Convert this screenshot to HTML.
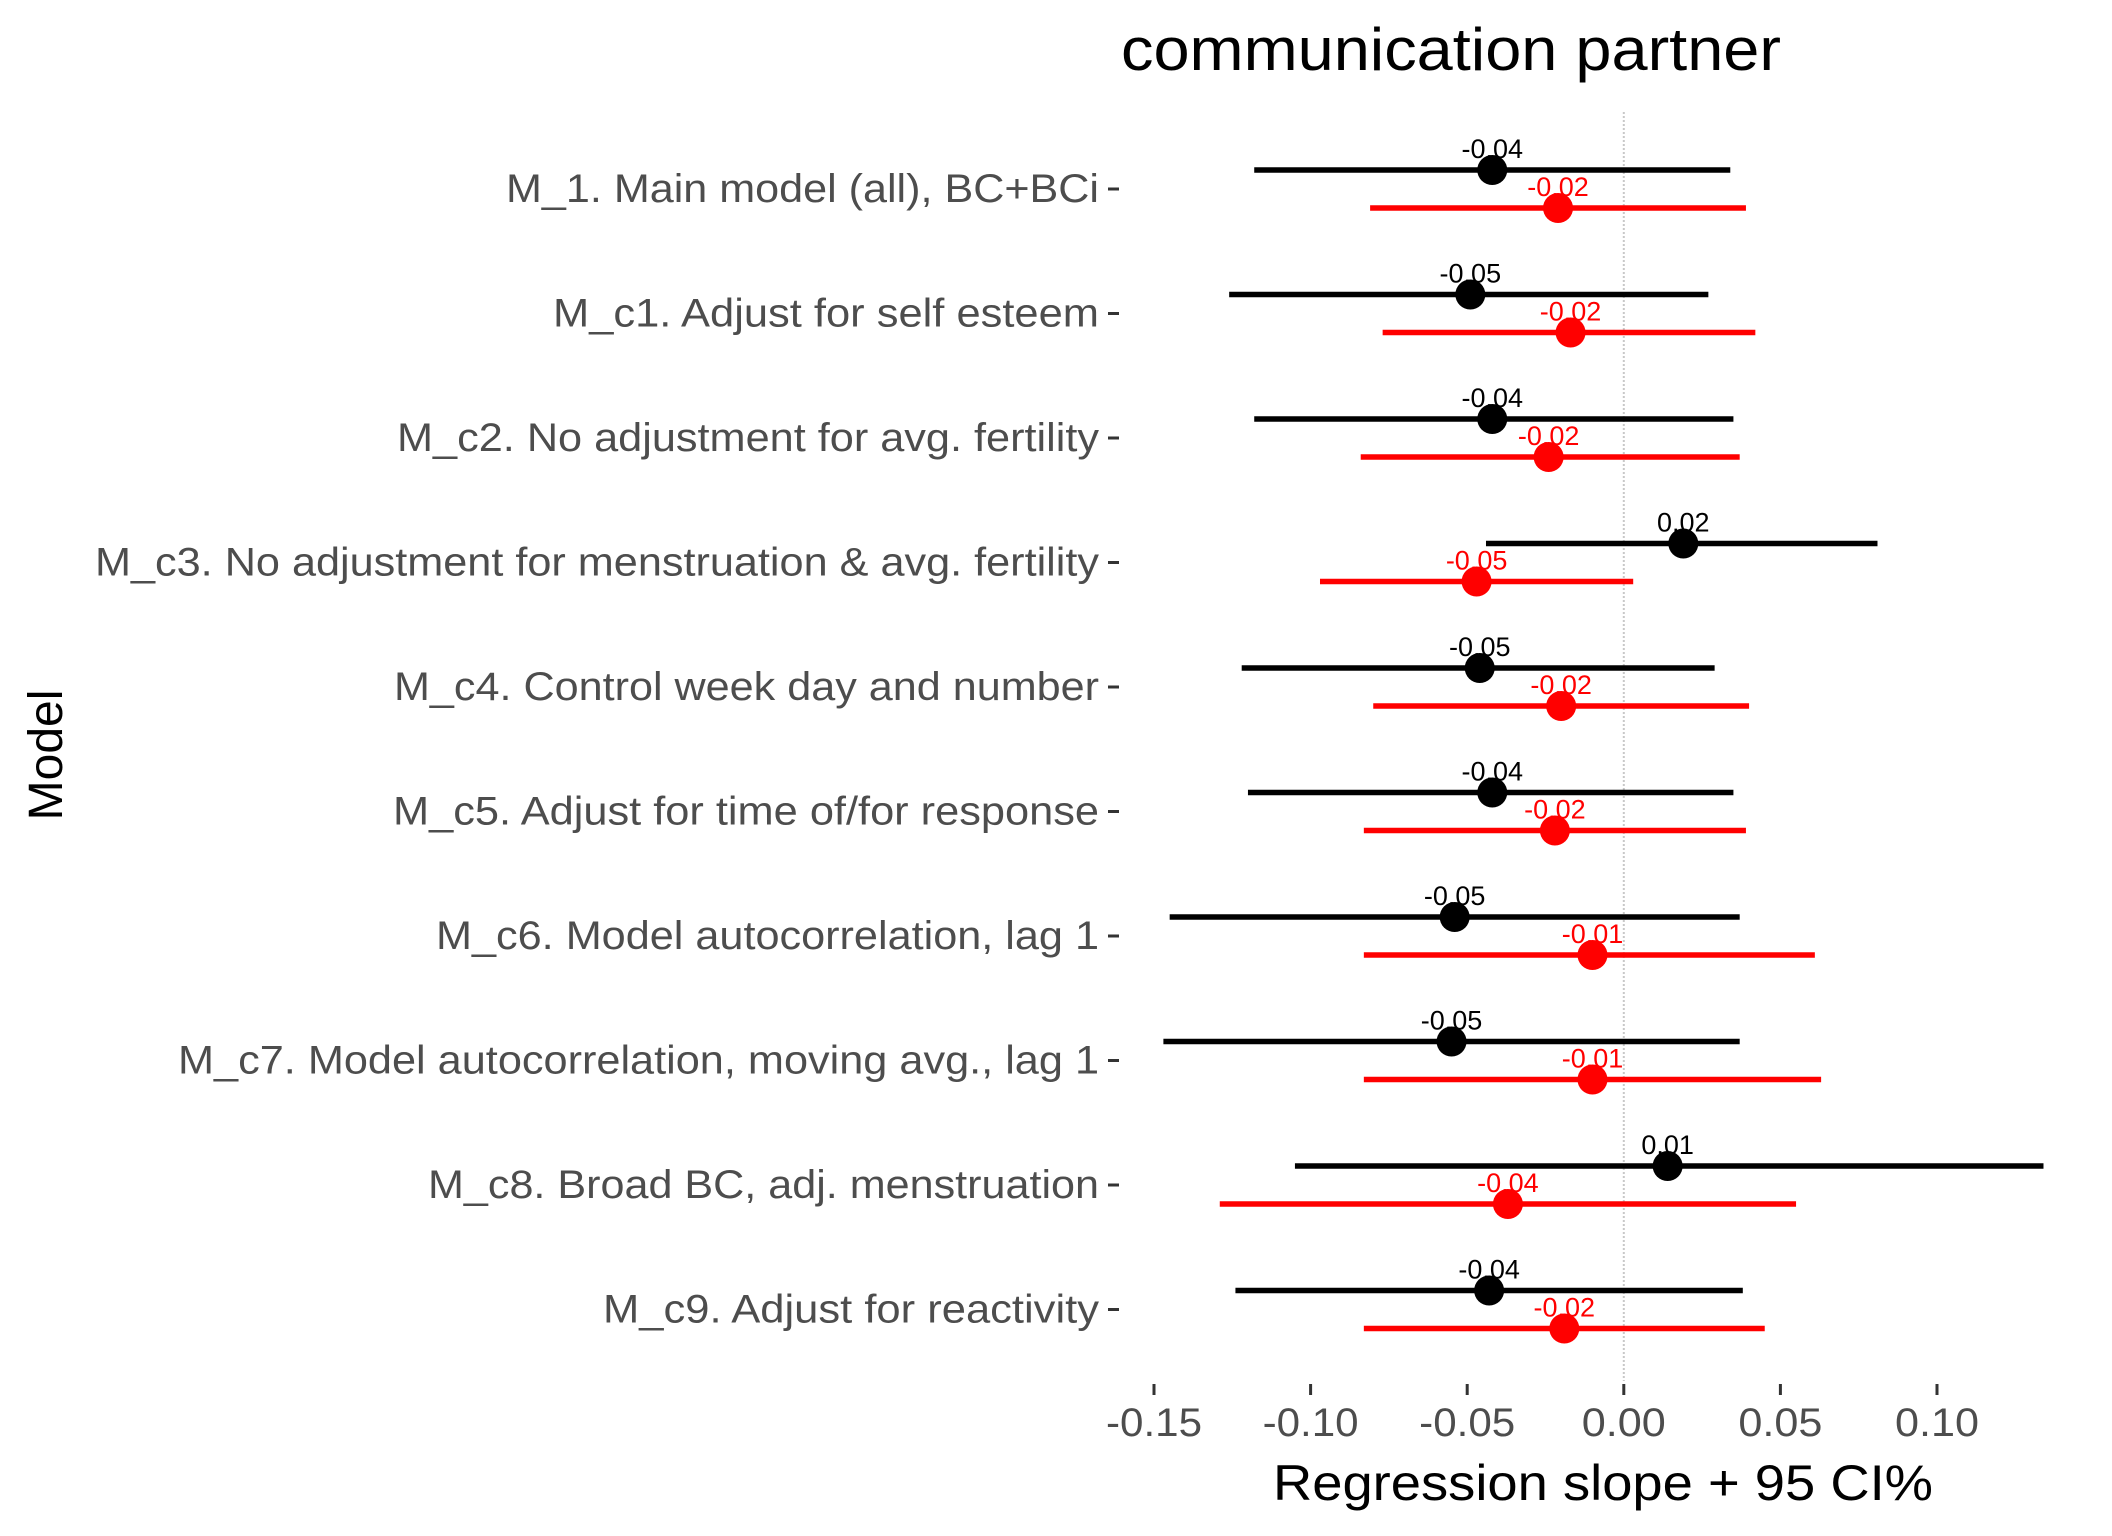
<!DOCTYPE html>
<html><head><meta charset="utf-8"><style>
html,body{margin:0;padding:0;background:#fff;}
svg{display:block;font-family:"Liberation Sans",Arial,sans-serif;}
</style></head><body>
<svg id="chart" width="2112" height="1536" viewBox="0 0 2112 1536" xmlns="http://www.w3.org/2000/svg">
<rect width="2112" height="1536" fill="#fff"/>
<text x="1451" y="70" font-size="60" text-anchor="middle" fill="#000" textLength="660" lengthAdjust="spacingAndGlyphs">communication partner</text>
<line id="zeroline" x1="1626" y1="112" x2="1626" y2="1381" stroke="#c8c8c8" stroke-width="2" stroke-dasharray="2,2"/>
<g id="yaxis"></g>
<g id="xaxis"></g>
<g id="marks"></g>
<text x="1603" y="1500" font-size="50" text-anchor="middle" fill="#000" textLength="660" lengthAdjust="spacingAndGlyphs">Regression slope + 95 CI%</text>
<text transform="translate(62,755) rotate(-90)" font-size="48" text-anchor="middle" fill="#000">Model</text>
</svg>
<script>
const models = ["M_1. Main model (all), BC+BCi","M_c1. Adjust for self esteem","M_c2. No adjustment for avg. fertility","M_c3. No adjustment for menstruation & avg. fertility","M_c4. Control week day and number","M_c5. Adjust for time of/for response","M_c6. Model autocorrelation, lag 1","M_c7. Model autocorrelation, moving avg., lag 1","M_c8. Broad BC, adj. menstruation","M_c9. Adjust for reactivity"];
const labelWidths = [593,546,702,1004,705,706,663,921,671,496];
const blackEst = [-0.042,-0.049,-0.042,0.019,-0.046,-0.042,-0.054,-0.055,0.014,-0.043];
const blackLo = [-0.118,-0.126,-0.118,-0.044,-0.122,-0.120,-0.145,-0.147,-0.105,-0.124];
const blackHi = [0.034,0.027,0.035,0.081,0.029,0.035,0.037,0.037,0.134,0.038];
const blackLabels = ["-0.04","-0.05","-0.04","0.02","-0.05","-0.04","-0.05","-0.05","0.01","-0.04"];
const redEst = [-0.021,-0.017,-0.024,-0.047,-0.020,-0.022,-0.010,-0.010,-0.037,-0.019];
const redLo = [-0.081,-0.077,-0.084,-0.097,-0.080,-0.083,-0.083,-0.083,-0.129,-0.083];
const redHi = [0.039,0.042,0.037,0.003,0.040,0.039,0.061,0.063,0.055,0.045];
const redLabels = ["-0.02","-0.02","-0.02","-0.05","-0.02","-0.02","-0.01","-0.01","-0.04","-0.02"];
const xTicks = [-0.15,-0.10,-0.05,0.00,0.05,0.10];
const xTickLabels = ["-0.15","-0.10","-0.05","0.00","0.05","0.10"];

const NS="http://www.w3.org/2000/svg";
function xs(v){return 1154+(v+0.15)*3132;}
function ys(i){return 189+i*124.5;}
function mk(tag,attrs,parent){const e=document.createElementNS(NS,tag);for(const k in attrs)e.setAttribute(k,attrs[k]);parent.appendChild(e);return e;}
const yaxis=document.getElementById('yaxis'),xaxis=document.getElementById('xaxis'),marks=document.getElementById('marks');
document.getElementById('zeroline').setAttribute('x1',xs(0));
document.getElementById('zeroline').setAttribute('x2',xs(0));

models.forEach((m,i)=>{
  const t=mk('text',{x:1099,y:ys(i)+13,'font-size':40,'text-anchor':'end',fill:'#4d4d4d',textLength:labelWidths[i],lengthAdjust:'spacingAndGlyphs'},yaxis);
  
  
  t.textContent=m;
  const tk=mk('line',{x1:1108,x2:1119,y1:ys(i),y2:ys(i),stroke:'#333',"stroke-width":3},yaxis);
  
  
});
xTicks.forEach((v,i)=>{
  const tk=mk('line',{x1:xs(v),x2:xs(v),y1:1384,y2:1395,stroke:'#333',"stroke-width":3},xaxis);
  
  
  const t=mk('text',{x:xs(v),y:1436,'font-size':40,'text-anchor':'middle',fill:'#4d4d4d',textLength:96,lengthAdjust:'spacingAndGlyphs'},xaxis);
  if(xTickLabels[i].charAt(0)!=='-') t.setAttribute('textLength',84);
  
  
  t.textContent=xTickLabels[i];
});
function series(est,lo,hi,labels,color,off,name){
  est.forEach((v,i)=>{
    const y=ys(i)+off;
    const l=mk('line',{x1:xs(lo[i]),x2:xs(hi[i]),y1:y,y2:y,stroke:color,"stroke-width":5.5},marks);
    
    
    const c=mk('circle',{cx:xs(v),cy:y,r:15,fill:color},marks);
    
    
    const t=mk('text',{x:xs(v),y:y-12,'font-size':27,'text-anchor':'middle',fill:color},marks);
    
    
    t.textContent=labels[i];
  });
}
series(blackEst,blackLo,blackHi,blackLabels,'#000',-19,'black-series');
series(redEst,redLo,redHi,redLabels,'#ff0000',19,'red-series');
</script>
</body></html>
